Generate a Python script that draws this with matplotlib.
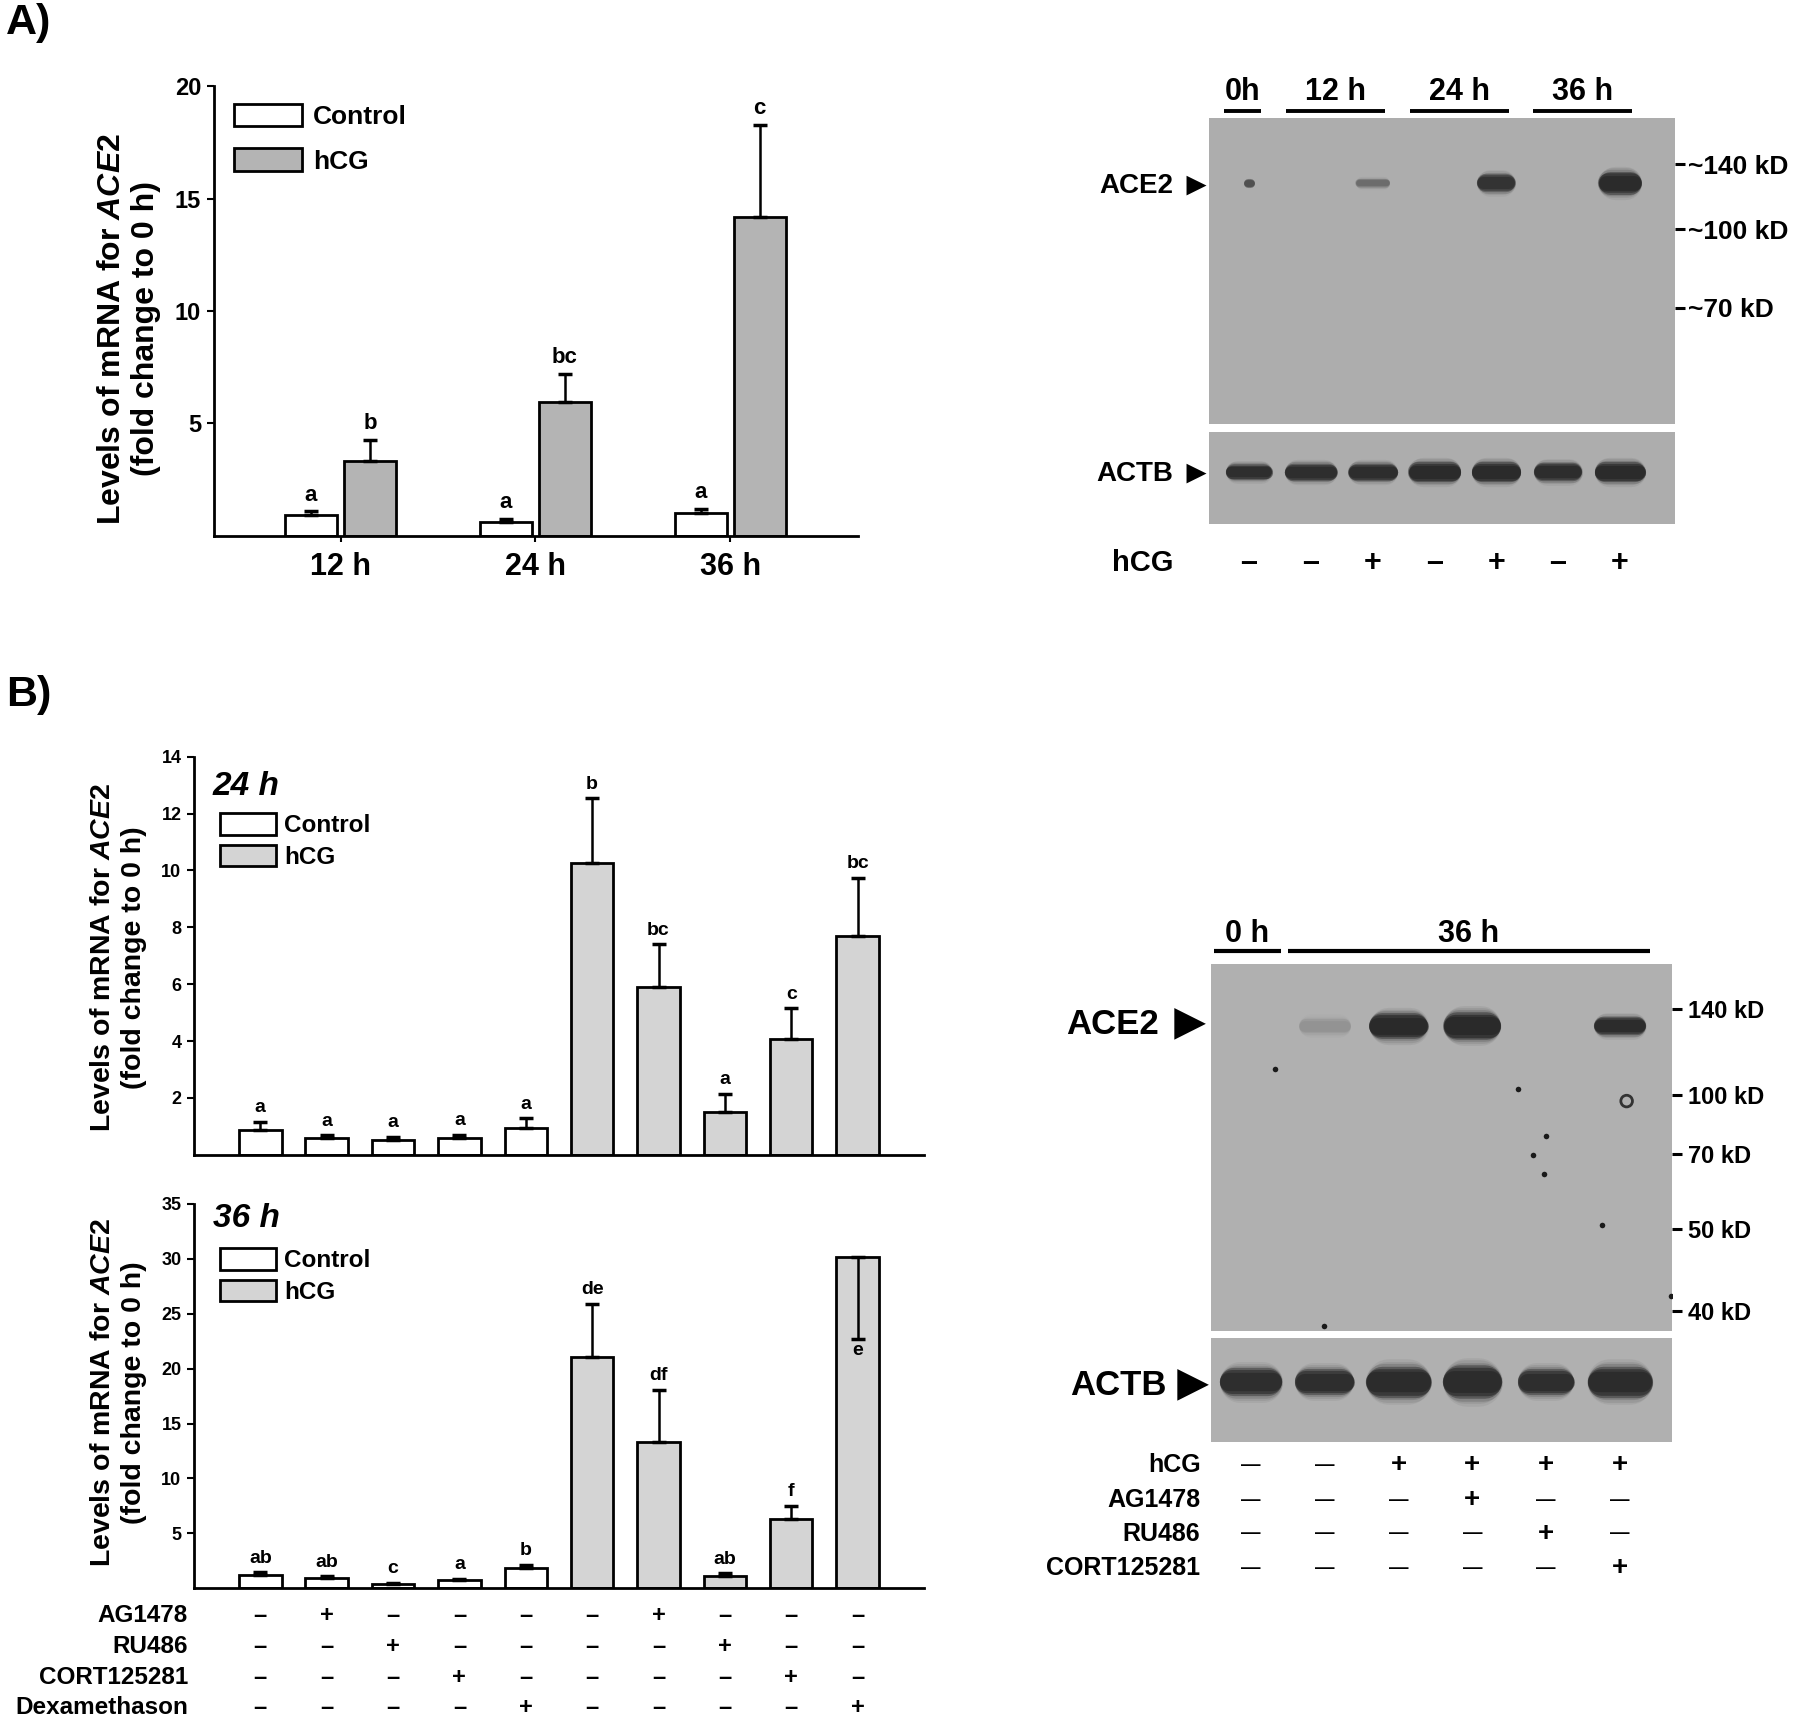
import matplotlib
matplotlib.use('Agg')
import numpy as np
import matplotlib.pyplot as plt
from matplotlib.transforms import blended_transform_factory as blend

plt.rcParams['font.family'] = ['Liberation Sans', 'DejaVu Sans']
plt.rcParams['font.weight'] = 'bold'
plt.rcParams['mathtext.fontset'] = 'custom'
plt.rcParams['mathtext.it'] = 'Liberation Sans:italic:bold'
plt.rcParams['mathtext.rm'] = 'Liberation Sans:bold'
plt.rcParams['mathtext.bf'] = 'Liberation Sans:bold'

# ----- panel A, qPCR ----- #
times_a = ['12 h', '24 h', '36 h']
ctrl_a = [0.91, 0.62, 1.0]
ctrl_a_err = [0.18, 0.14, 0.2]
hcg_a = [3.34, 5.95, 14.2]
hcg_a_err = [0.93, 1.26, 4.09]
ctrl_a_sig = ['a', 'a', 'a']
hcg_a_sig = ['b', 'bc', 'c']

# ----- panel A, western blot ----- #
hcg_lanes_a = [0, 0, 1, 0, 1, 0, 1]
groups_a = [('0h', 0, 0), ('12 h', 1, 2), ('24 h', 3, 4), ('36 h', 5, 6)]
ace2_a = [0.7, 0, 0.28, 0, 0.8, 0, 0.95]
ace2_a_w = [0.18, 0, 0.55, 0, 0.62, 0, 0.7]
ace2_a_h = [0.035, 0, 0.03, 0, 0.06, 0, 0.075]
actb_a = [0.9, 0.9, 0.92, 0.95, 0.95, 0.92, 0.95]
actb_a_w = [0.75, 0.85, 0.8, 0.85, 0.8, 0.78, 0.82]
actb_a_h = [0.17, 0.19, 0.19, 0.22, 0.22, 0.2, 0.22]
mw_a = ['~140 kD', '~100 kD', '~70 kD']
mw_a_pos = [0.849, 0.636, 0.379]

# ----- panel B, qPCR ----- #
b24 = [0.88, 0.58, 0.53, 0.58, 0.93, 10.27, 5.89, 1.51, 4.07, 7.7]
b24_err = [0.28, 0.11, 0.11, 0.13, 0.36, 2.27, 1.52, 0.64, 1.09, 2.05]
b24_sig = ['a', 'a', 'a', 'a', 'a', 'b', 'bc', 'a', 'c', 'bc']
b36 = [1.19, 0.91, 0.40, 0.75, 1.82, 21.1, 13.3, 1.10, 6.26, 30.2]
b36_err = [0.25, 0.19, 0.10, 0.13, 0.31, 4.8, 4.77, 0.25, 1.23, 7.5]
b36_err_dir = [1, 1, 1, 1, 1, 1, 1, 1, 1, -1]
b36_sig = ['ab', 'ab', 'c', 'a', 'b', 'de', 'df', 'ab', 'f', 'e']
b_hcg = [0, 0, 0, 0, 0, 1, 1, 1, 1, 1]
treat_names = ['AG1478', 'RU486', 'CORT125281', 'Dexamethason']
treat_b = [[0, 1, 0, 0, 0, 0, 1, 0, 0, 0],
           [0, 0, 1, 0, 0, 0, 0, 1, 0, 0],
           [0, 0, 0, 1, 0, 0, 0, 0, 1, 0],
           [0, 0, 0, 0, 1, 0, 0, 0, 0, 1]]

# ----- panel B, western blot ----- #
groups_b = [('0 h', 0, 0), ('36 h', 1, 5)]
blot_rows_b = ['hCG', 'AG1478', 'RU486', 'CORT125281']
blot_treat_b = [[0, 0, 1, 1, 1, 1],
                [0, 0, 0, 1, 0, 0],
                [0, 0, 0, 0, 1, 0],
                [0, 0, 0, 0, 0, 1]]
ace2_b = [0, 0.1, 1.0, 1.0, 0, 0.95]
ace2_b_w = [0, 0.7, 0.8, 0.78, 0, 0.7]
ace2_b_h = [0, 0.045, 0.07, 0.075, 0, 0.05]
actb_b = [0.9, 0.9, 0.95, 0.95, 0.9, 0.95]
actb_b_w = [0.85, 0.8, 0.88, 0.8, 0.76, 0.88]
actb_b_h = [0.27, 0.25, 0.3, 0.32, 0.25, 0.3]
mw_b = ['140 kD', '100 kD', '70 kD', '50 kD', '40 kD']
mw_b_pos = [0.878, 0.644, 0.483, 0.278, 0.055]
speck_x = [3.82, 4.0, 3.97, 4.76, 3.62, 0.99, 0.33, 5.69]
speck_y = [0.48, 0.533, 0.428, 0.289, 0.66, 0.014, 0.714, 0.095]

W, H = 1800, 1722
fig = plt.figure(figsize=(W / 100, H / 100), dpi=100)


def box(x0, y0, x1, y1):
    return [x0 / W, 1 - y1 / H, (x1 - x0) / W, (y1 - y0) / H]


def fx(x):
    return x / W


def fy(y):
    return 1 - y / H


def style_axis(ax, tick_fs):
    for s in ['top', 'right']:
        ax.spines[s].set_visible(False)
    for s in ['left', 'bottom']:
        ax.spines[s].set_linewidth(2)
    ax.tick_params(axis='y', direction='out', length=5, width=1.5, labelsize=tick_fs, pad=4)
    ax.patch.set_alpha(0)


def sig_letters(ax, xs, tops, errs, letters, fs, dirs=None):
    for i, (x, t, e, s) in enumerate(zip(xs, tops, errs, letters)):
        d = 1 if dirs is None else dirs[i]
        if d > 0:
            ax.annotate(s, (x, t + e), xytext=(0, 4), textcoords='offset points',
                        ha='center', va='bottom', fontsize=fs)
        else:
            ax.annotate(s, (x, t - e), xytext=(0, -2), textcoords='offset points',
                        ha='center', va='top', fontsize=fs)


def ylabel2(x1, x2, yc, fs):
    fig.text(fx(x1), fy(yc), r'Levels of mRNA for $\mathit{ACE2}$', rotation=90,
             ha='center', va='center', fontsize=fs)
    fig.text(fx(x2), fy(yc), '(fold change to 0 h)', rotation=90,
             ha='center', va='center', fontsize=fs)


def band(ax, x, y, w, h, k):
    # a blot band: round-capped strokes stacked for a soft edge
    if k <= 0:
        return
    bb = ax.get_position()
    ax_h = bb.height * H
    lane_px = bb.width * W / (ax.get_xlim()[1] - ax.get_xlim()[0])
    h_px = h * ax_h
    for scale, a in [(1.45, 0.07), (1.3, 0.1), (1.15, 0.18), (1.0, 0.45),
                     (0.85, 0.6), (0.65, 0.6)]:
        lw = h_px * scale
        cap = lw / 2 / lane_px
        half = max(w / 2 - cap, 0.001)
        ax.plot([x - half, x + half], [y, y], color='#222222', lw=lw * 0.72,
                alpha=a * k, solid_capstyle='round')


def blot_axes(rect, xlim, color):
    ax = fig.add_axes(rect)
    ax.set_facecolor(color)
    ax.set_xlim(*xlim)
    ax.set_ylim(0, 1)
    ax.set_xticks([])
    ax.set_yticks([])
    for s in ax.spines.values():
        s.set_visible(False)
    return ax


# =================== A) bar chart =================== #
axA = fig.add_axes(box(213.5, 86.2, 858, 535.8))
xa = np.arange(1, 4)
off, wa = 0.152, 0.267
bc = axA.bar(xa - off, ctrl_a, wa, color='white', edgecolor='k', lw=2, label='Control', zorder=2)
bh = axA.bar(xa + off, hcg_a, wa, color='#b4b4b4', edgecolor='k', lw=2, label='hCG', zorder=2)
axA.errorbar(xa - off, ctrl_a, yerr=[[0] * 3, ctrl_a_err], fmt='none', ecolor='k',
             elinewidth=1.8, capsize=5, capthick=2.5, zorder=3)
axA.errorbar(xa + off, hcg_a, yerr=[[0] * 3, hcg_a_err], fmt='none', ecolor='k',
             elinewidth=1.8, capsize=5, capthick=2.5, zorder=3)
sig_letters(axA, xa - off, ctrl_a, ctrl_a_err, ctrl_a_sig, 16)
sig_letters(axA, xa + off, hcg_a, hcg_a_err, hcg_a_sig, 16)
axA.set_xlim(0.348, 3.656)
axA.set_ylim(0, 20)
axA.set_yticks([5, 10, 15, 20])
axA.set_xticks(xa)
axA.set_xticklabels(times_a)
style_axis(axA, 17)
axA.tick_params(axis='x', direction='out', length=4, width=1.5, labelsize=22, pad=8)
axA.legend(handles=[bc, bh], loc='upper left', bbox_to_anchor=(0.0318, 0.961),
           frameon=False, fontsize=19, handlelength=2.58, handleheight=0.95,
           labelspacing=0.72, handletextpad=0.4, borderpad=0, borderaxespad=0)
ylabel2(112, 146, 329, 23)

fig.text(fx(6), fy(23), 'A)', fontsize=31, ha='left', va='center')
fig.text(fx(6), fy(695), 'B)', fontsize=31, ha='left', va='center')

# =================== A) western blot =================== #
xl_a = (-0.647, 6.885)
ace2A = blot_axes(box(1209, 117.8, 1674.5, 423.8), xl_a, '#adadad')
actbA = blot_axes(box(1209, 432, 1674.5, 523.8), xl_a, '#adadad')
for i in range(len(ace2_a)):
    band(ace2A, i, 0.788, ace2_a_w[i], ace2_a_h[i], ace2_a[i])
    band(actbA, i, 0.564, actb_a_w[i], actb_a_h[i], actb_a[i])
ace2A.yaxis.tick_right()
ace2A.set_yticks(mw_a_pos)
ace2A.set_yticklabels(mw_a)
ace2A.tick_params(axis='y', length=7, width=2.2, pad=3, labelsize=19)
tr = blend(ace2A.transData, ace2A.transAxes)
for lab, a, b in groups_a:
    ace2A.plot([a - 0.4, b + 0.2], [1.021, 1.021], color='k', lw=2.8,
               transform=tr, clip_on=False, solid_capstyle='butt')
    ace2A.text((a - 0.4 + b + 0.2) / 2, 1.085, lab, transform=tr, ha='center',
               va='center', fontsize=22)
fig.text(fx(1173.5), fy(186.4), 'ACE2', ha='right', va='center', fontsize=20)
fig.text(fx(1196), fy(186.4), '►', ha='center', va='center', fontsize=24)
fig.text(fx(1173.5), fy(473.8), 'ACTB', ha='right', va='center', fontsize=20)
fig.text(fx(1196), fy(473.8), '►', ha='center', va='center', fontsize=24)
fig.text(fx(1143), fy(563), 'hCG', ha='center', va='center', fontsize=21)
trs = blend(ace2A.transData, fig.transFigure)
for i, v in enumerate(hcg_lanes_a):
    fig.text(i, fy(563), '+' if v else '–', transform=trs, ha='center',
             va='center', fontsize=22)

# =================== B) bar charts =================== #
xb = np.arange(len(b24))
wb = 0.64
fills = ['#d4d4d4' if h else 'white' for h in b_hcg]


def chart_b(rect, vals, errs, sigs, ymax, step, tag, leg_y, dirs=None):
    ax = fig.add_axes(rect)
    bars = ax.bar(xb, vals, wb, color=fills, edgecolor='k', lw=2, zorder=2)
    lo = [e if (dirs and dirs[i] < 0) else 0 for i, e in enumerate(errs)]
    hi = [0 if (dirs and dirs[i] < 0) else e for i, e in enumerate(errs)]
    ax.errorbar(xb, vals, yerr=[lo, hi], fmt='none', ecolor='k', elinewidth=1.8,
                capsize=5, capthick=2.5, zorder=3)
    sig_letters(ax, xb, vals, errs, sigs, 14, dirs)
    ax.set_xlim(-1.0, 10.0)
    ax.set_ylim(0, ymax)
    ax.set_yticks(np.arange(step, ymax + 0.1, step))
    ax.set_xticks([])
    style_axis(ax, 13)
    ax.text(0.026, tag[1], tag[0], transform=ax.transAxes, ha='left', va='center',
            fontsize=24, style='italic')
    ax.legend(handles=[bars[0], bars[5]], labels=['Control', 'hCG'], loc='upper left',
              bbox_to_anchor=(0.0357, leg_y), frameon=False, fontsize=17.5,
              handlelength=2.29, handleheight=1.0, labelspacing=0.3,
              handletextpad=0.35, borderpad=0, borderaxespad=0)
    return ax


ax24 = chart_b(box(193.9, 756.7, 924, 1154.8), b24, b24_err, b24_sig, 14, 2,
               ('24 h', 0.925), 0.858)
ax36 = chart_b(box(193.9, 1203.9, 924, 1588.2), b36, b36_err, b36_sig, 35, 5,
               ('36 h', 0.963), 0.885, b36_err_dir)
ylabel2(103, 134, 957.6, 20.5)
ylabel2(103, 134, 1392.6, 20.5)

row_y = [1615.6, 1646.7, 1677.8, 1707.9]
trb = blend(ax36.transData, fig.transFigure)
for name, flags, y in zip(treat_names, treat_b, row_y):
    fig.text(fx(187.8), fy(y), name, ha='right', va='center', fontsize=17.5)
    for i, v in enumerate(flags):
        fig.text(i, fy(y), '+' if v else '–', transform=trb, ha='center',
                 va='center', fontsize=17)

# =================== B) western blot =================== #
xl_b = (-0.546, 5.71)
ace2B = blot_axes(box(1210.7, 964.3, 1672.4, 1331), xl_b, '#b0b0b0')
actbB = blot_axes(box(1210.7, 1337.5, 1672.4, 1442.2), xl_b, '#b0b0b0')
for i in range(len(ace2_b)):
    band(ace2B, i, 0.832, ace2_b_w[i], ace2_b_h[i], ace2_b[i])
    band(actbB, i, 0.575, actb_b_w[i], actb_b_h[i], actb_b[i])
ace2B.scatter(speck_x, speck_y, s=16, color='#1a1a1a', lw=0)
ace2B.scatter([5.09], [0.627], s=70, facecolor='none', edgecolor='#333333', lw=2)
ace2B.yaxis.tick_right()
ace2B.set_yticks(mw_b_pos)
ace2B.set_yticklabels(mw_b)
ace2B.tick_params(axis='y', length=7, width=2.2, pad=4, labelsize=17)
tr = blend(ace2B.transData, ace2B.transAxes)
for lab, a, b in groups_b:
    ace2B.plot([a - 0.5, b + 0.4], [1.035, 1.035], color='k', lw=3,
               transform=tr, clip_on=False, solid_capstyle='butt')
    ace2B.text((a - 0.5 + b + 0.4) / 2, 1.083, lab, transform=tr, ha='center',
               va='center', fontsize=22)
fig.text(fx(1159), fy(1025), 'ACE2', ha='right', va='center', fontsize=25)
fig.text(fx(1190), fy(1025), '►', ha='center', va='center', fontsize=38)
fig.text(fx(1167), fy(1385.9), 'ACTB', ha='right', va='center', fontsize=25)
fig.text(fx(1193), fy(1385.9), '►', ha='center', va='center', fontsize=38)
blot_row_y = [1465.4, 1500.3, 1534, 1568.4]
trs = blend(ace2B.transData, fig.transFigure)
for name, flags, y in zip(blot_rows_b, blot_treat_b, blot_row_y):
    fig.text(fx(1200.5), fy(y), name, ha='right', va='center', fontsize=18)
    for i, v in enumerate(flags):
        fig.text(i, fy(y), '+' if v else '—', transform=trs, ha='center',
                 va='center', fontsize=20 if v else 14)

fig.savefig('out.png', dpi=100)
